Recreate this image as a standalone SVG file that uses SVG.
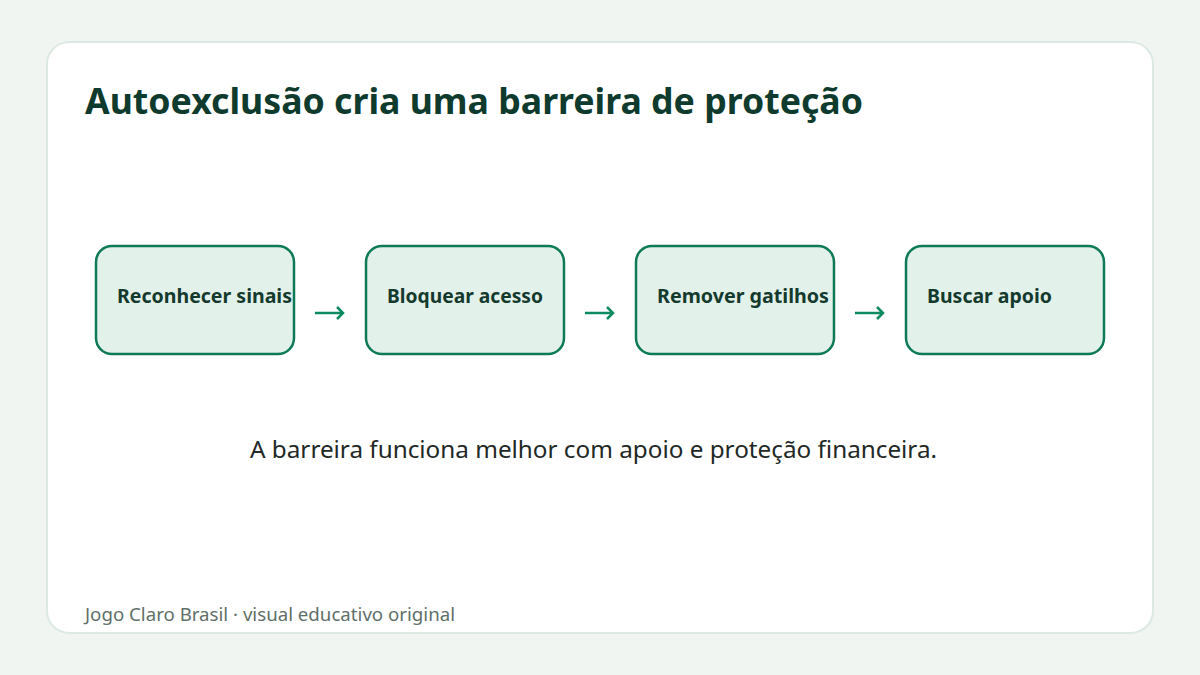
<svg xmlns="http://www.w3.org/2000/svg" width="1200" height="675" viewBox="0 0 1200 675">
<style>
.node rect{fill:#e2f1ea;stroke:#0e7a57;stroke-width:2.5}
.node text{font-family:"Noto Sans","Open Sans",sans-serif;font-weight:700;font-size:19px;fill:#143a2e}
.arr{fill:none;stroke:#0e8a5f;stroke-width:2.5;stroke-linecap:butt}
</style>
<rect width="1200" height="675" fill="#f1f5f2"/>
<rect x="47" y="42" width="1106" height="591" rx="22" fill="#ffffff" stroke="#dce9e3" stroke-width="2"/>
<text x="85" y="114" textLength="778" lengthAdjust="spacingAndGlyphs" font-family="Noto Sans,Open Sans,sans-serif" font-weight="700" font-size="36" fill="#0f3a2e">Autoexclusão cria uma barreira de proteção</text>
<g id="n1" class="node"><rect x="96" y="246" width="198" height="108" rx="16"/><text x="117" y="303" textLength="175" lengthAdjust="spacingAndGlyphs">Reconhecer sinais</text></g>
<g id="n2" class="node"><rect x="366" y="246" width="198" height="108" rx="16"/><text x="387" y="303" textLength="156" lengthAdjust="spacingAndGlyphs">Bloquear acesso</text></g>
<g id="n3" class="node"><rect x="636" y="246" width="198" height="108" rx="16"/><text x="657" y="303" textLength="172" lengthAdjust="spacingAndGlyphs">Remover gatilhos</text></g>
<g id="n4" class="node"><rect x="906" y="246" width="198" height="108" rx="16"/><text x="927" y="303" textLength="125" lengthAdjust="spacingAndGlyphs">Buscar apoio</text></g>
<g id="connectors">
<path class="arr" d="M315 313H343M337 307L343 313L337 319"/>
<path class="arr" d="M585 313H613M607 307L613 313L607 319"/>
<path class="arr" d="M855 313H883M877 307L883 313L877 319"/>
</g>
<text x="250" y="458" textLength="687" lengthAdjust="spacingAndGlyphs" font-family="Noto Sans,Open Sans,sans-serif" font-size="23" fill="#222826">A barreira funciona melhor com apoio e proteção financeira.</text>
<text x="85" y="621" textLength="370" lengthAdjust="spacingAndGlyphs" font-family="Noto Sans,Open Sans,sans-serif" font-size="18.5" fill="#5f6f69">Jogo Claro Brasil · visual educativo original</text>
</svg>
